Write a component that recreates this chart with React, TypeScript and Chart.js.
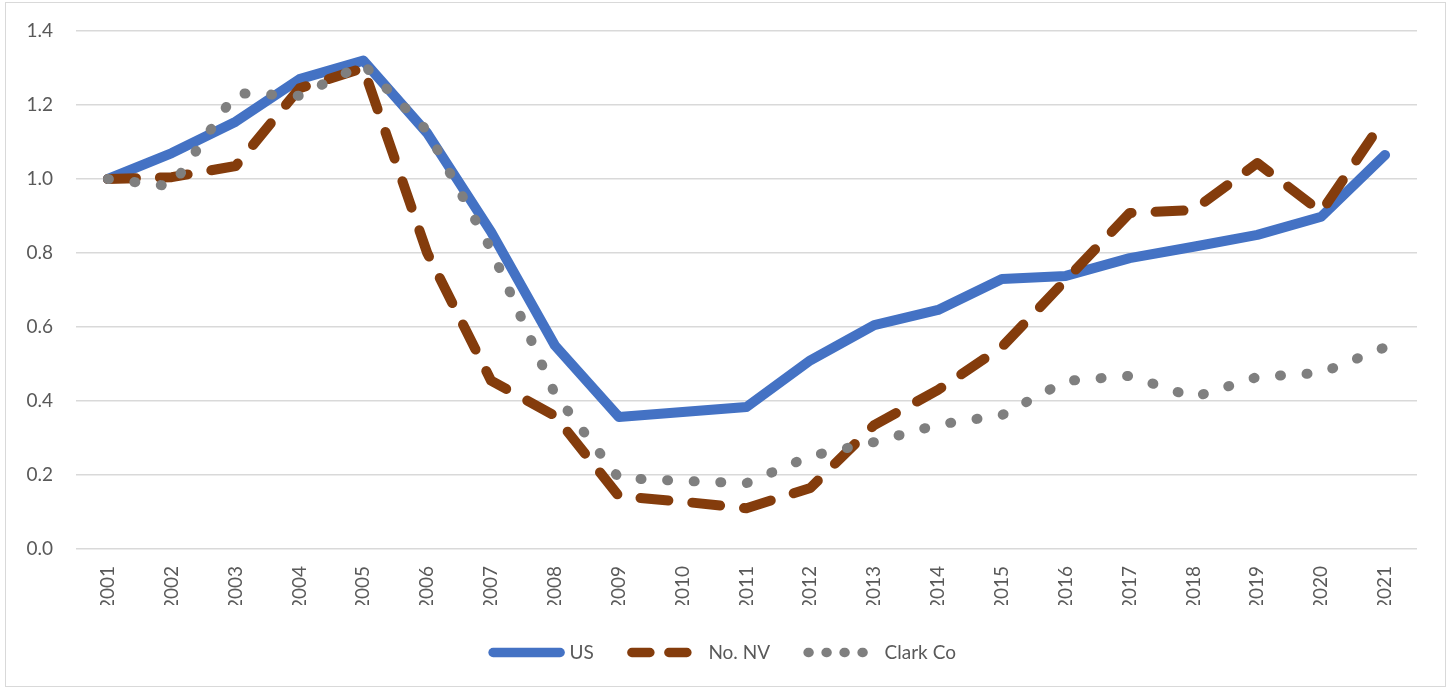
import { useEffect, useRef } from "react";
import { Chart, registerables } from "chart.js";

Chart.register(...registerables);

const years = [
  "2001", "2002", "2003", "2004", "2005", "2006", "2007", "2008", "2009", "2010", "2011",
  "2012", "2013", "2014", "2015", "2016", "2017", "2018", "2019", "2020", "2021",
];

const usValues = [
  1.0, 1.07, 1.155, 1.27, 1.32, 1.124, 0.857, 0.55, 0.357, 0.37, 0.384,
  0.51, 0.605, 0.646, 0.73, 0.738, 0.786, 0.817, 0.849, 0.898, 1.065,
];

const noNvValues = [
  1.0, 1.005, 1.035, 1.245, 1.3, 0.8, 0.455, 0.36, 0.143, 0.128, 0.11,
  0.165, 0.335, 0.43, 0.546, 0.727, 0.908, 0.916, 1.043, 0.911, 1.165,
];

const clarkValues = [
  1.0, 0.98, 1.232, 1.225, 1.31, 1.13, 0.81, 0.419, 0.192, 0.184, 0.178,
  0.251, 0.289, 0.336, 0.362, 0.454, 0.468, 0.41, 0.465, 0.476, 0.545,
];

const seriesNames = ["US", "No. NV", "Clark Co"];

const FONT = "Lato, 'Open Sans', 'DejaVu Sans', sans-serif";
const TEXT = "#595959";
const GRID = "#D9D9D9";

const chartFrame = {
  id: "chartFrame",
  beforeDraw(chart: any) {
    const { ctx, width, height } = chart;
    ctx.save();
    ctx.fillStyle = "#ffffff";
    ctx.fillRect(0, 0, width, height);
    ctx.strokeStyle = GRID;
    ctx.lineWidth = 1;
    ctx.strokeRect(5.5, 2.5, width - 9, height - 5);
    ctx.restore();
  },
};

const legendDashes = [[], [18, 19], [1, 17]];

export default function App() {
  const canvasRef = useRef<HTMLCanvasElement | null>(null);

  useEffect(() => {
    document.body.style.margin = "0";
    const canvas = canvasRef.current;
    if (!canvas) return;
    const chart = new Chart(canvas, {
      type: "line",
      data: {
        labels: years,
        datasets: [
          {
            label: seriesNames[0],
            data: usValues,
            borderColor: "#4472C4",
            backgroundColor: "#4472C4",
            borderWidth: 10,
            borderCapStyle: "round",
            borderJoinStyle: "round",
            pointRadius: 0,
            tension: 0,
            order: 3,
          },
          {
            label: seriesNames[1],
            data: noNvValues,
            borderColor: "#843C0C",
            backgroundColor: "#843C0C",
            borderWidth: 10,
            borderDash: [28, 24],
            borderCapStyle: "round",
            borderJoinStyle: "round",
            pointRadius: 0,
            tension: 0,
            order: 2,
          },
          {
            label: seriesNames[2],
            data: clarkValues,
            borderColor: "#7F7F7F",
            backgroundColor: "#7F7F7F",
            borderWidth: 10,
            borderDash: [1, 25.6],
            borderCapStyle: "round",
            borderJoinStyle: "round",
            pointRadius: 0,
            tension: 0,
            order: 1,
          },
        ],
      },
      options: {
        responsive: false,
        animation: false,
        layout: { padding: { top: 31, right: 0, bottom: 17, left: 0 } },
        scales: {
          x: {
            type: "category",
            offset: true,
            grid: { display: false, drawTicks: false },
            border: { display: false },
            ticks: {
              autoSkip: false,
              minRotation: 90,
              maxRotation: 90,
              padding: 17,
              color: TEXT,
              font: { family: FONT, size: 19 },
            },
            afterFit: (s: any) => {
              s.height = 56;
              s.paddingLeft = 0;
              s.paddingRight = 32;
            },
          },
          y: {
            min: 0,
            max: 1.4,
            grid: { color: GRID, lineWidth: 1.5, drawTicks: false },
            border: { display: false },
            ticks: {
              stepSize: 0.2,
              padding: 23,
              color: TEXT,
              font: { family: FONT, size: 19 },
              callback: (v: any) => Number(v).toFixed(1),
            },
            afterFit: (s: any) => {
              s.width = 76;
              s.paddingTop = 0;
              s.paddingBottom = 0;
            },
          },
        },
        plugins: {
          tooltip: { enabled: false },
          legend: {
            position: "bottom",
            labels: {
              usePointStyle: true,
              pointStyle: "line",
              pointStyleWidth: 67,
              padding: 38,
              color: TEXT,
              font: { family: FONT, size: 19 },
              sort: (a: any, b: any) => a.datasetIndex - b.datasetIndex,
              generateLabels: (c: any) => {
                const items = (Chart as any).defaults.plugins.legend.labels.generateLabels(c);
                items.forEach((it: any) => {
                  it.lineWidth = 9.5;
                  it.lineDash = legendDashes[it.datasetIndex];
                  it.lineCap = "round";
                  it.pointStyle = "line";
                });
                return items;
              },
            },
          },
        },
      },
      plugins: [chartFrame],
    } as any);
    return () => chart.destroy();
  }, []);

  return (
    <canvas
      ref={canvasRef}
      width={1449}
      height={689}
      style={{ display: "block", width: 1449, height: 689 }}
    />
  );
}
